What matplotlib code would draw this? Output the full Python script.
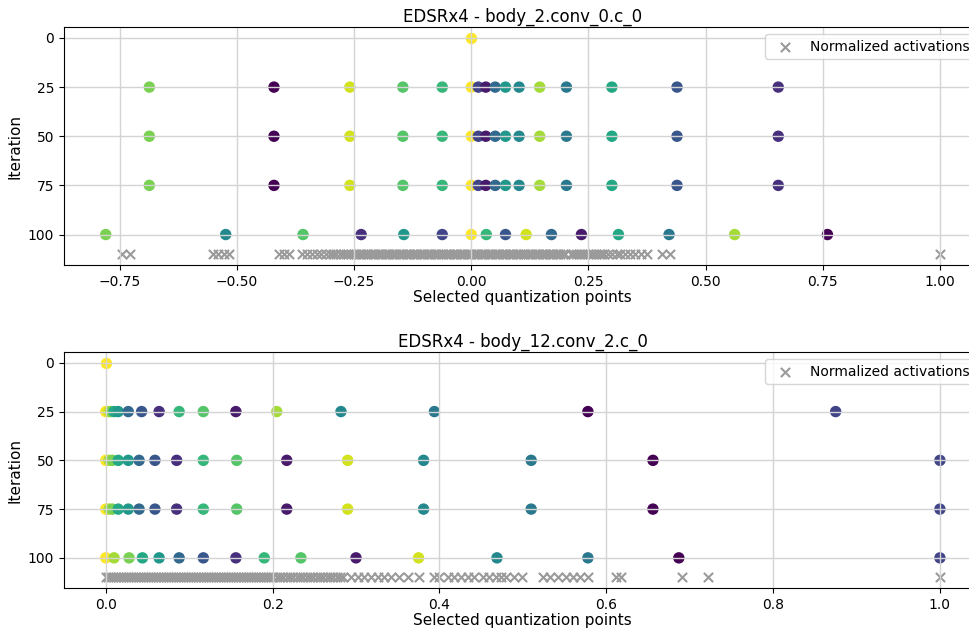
import numpy as np
import matplotlib.pyplot as plt

# iterations on the y axis (inverted), activations drawn on a row below
iterations = [0, 25, 50, 75, 100]
act_row = 110

# ═══════════════════════════════════════════════
# EDSRx4 - body_2.conv_0.c_0  (16 quantization points per iteration)
# ═══════════════════════════════════════════════
top_x_0   = [0.0]   # all points start at 0, only the last one is visible
top_c_0   = [15]
top_x_25  = [-0.687, -0.421, -0.259, -0.146, -0.062, 0.0, 0.015, 0.031,
             0.051, 0.073, 0.102, 0.146, 0.203, 0.300, 0.439, 0.655]
top_c_25  = [12, 0, 14, 11, 10, 15, 3, 1, 5, 8, 7, 13, 6, 9, 4, 2]
top_x_50  = [-0.687, -0.421, -0.259, -0.146, -0.062, 0.0, 0.015, 0.031,
             0.051, 0.073, 0.102, 0.146, 0.203, 0.300, 0.439, 0.655]
top_c_50  = [12, 0, 14, 11, 10, 15, 3, 1, 5, 8, 7, 13, 6, 9, 4, 2]
top_x_75  = [-0.687, -0.421, -0.259, -0.146, -0.062, 0.0, 0.015, 0.031,
             0.051, 0.073, 0.102, 0.146, 0.203, 0.300, 0.439, 0.655]
top_c_75  = [12, 0, 14, 11, 10, 15, 3, 1, 5, 8, 7, 13, 6, 9, 4, 2]
top_x_100 = [-0.780, -0.524, -0.359, -0.235, -0.144, -0.062, 0.0, 0.032,
             0.073, 0.117, 0.171, 0.235, 0.314, 0.422, 0.562, 0.760]
top_c_100 = [12, 7, 11, 2, 8, 3, 15, 10, 4, 14, 5, 1, 9, 6, 13, 0]

top_act = [-0.745, -0.728, -0.552, -0.540, -0.528, -0.516, -0.411, -0.400, -0.388,
           -0.362, -0.350, -0.340, -0.330, -0.320, -0.310, -0.302, -0.295, -0.288,
           -0.281, -0.274, -0.268, -0.262, -0.256,
           -0.250, -0.245, -0.240, -0.235, -0.230, -0.225, -0.220, -0.215, -0.210,
           -0.205, -0.200, -0.195, -0.190, -0.185, -0.180, -0.175, -0.170, -0.165,
           -0.160, -0.155, -0.150, -0.145, -0.140, -0.135, -0.130, -0.125, -0.120,
           -0.115, -0.110, -0.105, -0.100, -0.095, -0.090, -0.085, -0.080, -0.075,
           -0.070, -0.065, -0.060, -0.055, -0.050, -0.045, -0.040, -0.035, -0.030,
           -0.025, -0.020, -0.015, -0.010, -0.005, 0.000, 0.005, 0.010, 0.015,
           0.020, 0.025, 0.030, 0.035, 0.040, 0.045, 0.050, 0.055, 0.060, 0.065,
           0.070, 0.075, 0.080, 0.085, 0.090, 0.095, 0.100, 0.105, 0.110, 0.115,
           0.120, 0.125, 0.130, 0.135, 0.140, 0.145, 0.150, 0.155, 0.160, 0.165,
           0.170, 0.175, 0.180, 0.185, 0.190, 0.195, 0.200, 0.212, 0.218, 0.224,
           0.230, 0.236, 0.242, 0.248, 0.254, 0.260, 0.266, 0.272, 0.278, 0.284,
           0.292, 0.300, 0.310, 0.318, 0.328, 0.338, 0.350, 0.362, 0.376,
           0.408, 0.424, 1.0]

# ═══════════════════════════════════════════════
# EDSRx4 - body_12.conv_2.c_0
# ═══════════════════════════════════════════════
bot_x_0   = [0.0]
bot_c_0   = [15]
bot_x_25  = [0.0, 0.003, 0.006, 0.010, 0.015, 0.027, 0.043, 0.064,
             0.088, 0.117, 0.156, 0.205, 0.282, 0.394, 0.578, 0.875]
bot_c_25  = [15, 14, 12, 9, 8, 5, 4, 2, 10, 11, 1, 13, 7, 6, 0, 3]
bot_x_50  = [0.0, 0.004, 0.008, 0.015, 0.027, 0.040, 0.059, 0.085,
             0.117, 0.157, 0.217, 0.290, 0.381, 0.510, 0.656, 1.0]
bot_c_50  = [15, 13, 12, 9, 8, 5, 4, 2, 10, 11, 1, 14, 7, 6, 0, 3]
bot_x_75  = [0.0, 0.004, 0.008, 0.015, 0.027, 0.040, 0.059, 0.085,
             0.117, 0.157, 0.217, 0.290, 0.381, 0.510, 0.656, 1.0]
bot_c_75  = [15, 13, 12, 9, 8, 5, 4, 2, 10, 11, 1, 14, 7, 6, 0, 3]
bot_x_100 = [0.0, 0.010, 0.028, 0.044, 0.064, 0.088, 0.117, 0.156,
             0.190, 0.234, 0.300, 0.375, 0.469, 0.578, 0.687, 1.0]
bot_c_100 = [15, 13, 12, 9, 8, 5, 4, 2, 10, 11, 1, 14, 7, 6, 0, 3]

bot_act = [0.000, 0.003, 0.006, 0.009, 0.012, 0.015, 0.018, 0.021, 0.024, 0.027, 0.030, 0.033,
           0.036, 0.039, 0.042, 0.045, 0.048, 0.051, 0.054, 0.057, 0.060, 0.063, 0.066, 0.069,
           0.072, 0.075, 0.078, 0.081, 0.084, 0.087, 0.090, 0.093, 0.096, 0.099, 0.102, 0.105,
           0.108, 0.111, 0.114, 0.117, 0.120, 0.123, 0.126, 0.129, 0.132, 0.135, 0.138, 0.141,
           0.144, 0.147, 0.150, 0.153, 0.156, 0.159, 0.162, 0.165, 0.168, 0.171, 0.174, 0.177,
           0.180, 0.183, 0.186, 0.189, 0.192, 0.195, 0.198, 0.201,
           0.205, 0.209, 0.213, 0.217, 0.221, 0.225, 0.229, 0.233, 0.237, 0.241,
           0.245, 0.249, 0.253, 0.257, 0.261, 0.265, 0.269, 0.273, 0.277, 0.281, 0.285,
           0.294, 0.302, 0.310, 0.318, 0.326, 0.334, 0.342, 0.352, 0.362, 0.375,
           0.394, 0.400, 0.410, 0.418, 0.426, 0.434, 0.442, 0.452, 0.460, 0.468,
           0.474, 0.480, 0.489, 0.499, 0.524, 0.533, 0.542, 0.552, 0.560, 0.569,
           0.578, 0.612, 0.618, 0.691, 0.722, 1.0]

panels = [
    ('EDSRx4 - body_2.conv_0.c_0',
     [top_x_0, top_x_25, top_x_50, top_x_75, top_x_100],
     [top_c_0, top_c_25, top_c_50, top_c_75, top_c_100], top_act),
    ('EDSRx4 - body_12.conv_2.c_0',
     [bot_x_0, bot_x_25, bot_x_50, bot_x_75, bot_x_100],
     [bot_c_0, bot_c_25, bot_c_50, bot_c_75, bot_c_100], bot_act),
]

fig = plt.figure(figsize=(9.7, 6.31), dpi=100)
# axes run a little past the right edge, like the cropped original
ax_rects = [[0.066, 0.580, 0.946, 0.377],
            [0.066, 0.068, 0.946, 0.374]]

for (title, xs_rows, cs_rows, act), rect in zip(panels, ax_rects):
    ax = fig.add_axes(rect)
    for it, xs, cs in zip(iterations, xs_rows, cs_rows):
        ax.scatter(xs, [it] * len(xs), c=cs, cmap='viridis', vmin=0, vmax=15, s=52)
    ax.scatter(act, [act_row] * len(act), marker='x', color='#9a9a9a', s=44,
               linewidths=1.5, label='Normalized activations')
    ax.set_yticks(iterations)
    ax.set_ylim(115.5, -5.5)
    ax.grid(True, color='#d4d4d4', linewidth=1.0)
    ax.set_title(title, fontsize=12, pad=4)
    ax.set_xlabel('Selected quantization points', fontsize=11, labelpad=1)
    ax.set_ylabel('Iteration', fontsize=11)
    ax.tick_params(labelsize=10)
    ax.legend(loc='upper right', fontsize=10)

plt.savefig('out.png', dpi=100)
